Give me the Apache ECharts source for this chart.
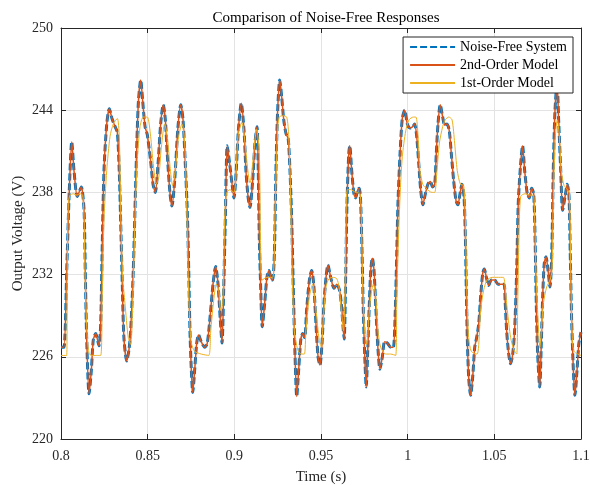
<!DOCTYPE html>
<html>
<head>
<meta charset="utf-8">
<script src="https://cdn.jsdelivr.net/npm/echarts@6/dist/echarts.min.js"></script>
<style>
    html, body { margin: 0; padding: 0; background: #fff; }
    #chart { width: 590px; height: 485px; }
</style>
</head>
<body>
<div id="chart"></div>
<script>
// 时间轴 (s) - 无噪声系统 / 二阶模型
let timeFull = [
    0.8000, 0.8017, 0.8033, 0.8048, 0.8062, 0.8075, 0.8094, 0.8117, 0.8133, 0.8140,
    0.8148, 0.8162, 0.8175, 0.8186, 0.8200, 0.8219, 0.8229, 0.8237, 0.8248, 0.8264,
    0.8279, 0.8294, 0.8312, 0.8325, 0.8336, 0.8344, 0.8354, 0.8363, 0.8379, 0.8392,
    0.8402, 0.8417, 0.8433, 0.8446, 0.8460, 0.8471, 0.8485, 0.8498, 0.8517, 0.8531,
    0.8544, 0.8560, 0.8575, 0.8590, 0.8602, 0.8613, 0.8629, 0.8640, 0.8656, 0.8675,
    0.8691, 0.8704, 0.8717, 0.8729, 0.8737, 0.8744, 0.8752, 0.8760, 0.8771, 0.8783,
    0.8794, 0.8809, 0.8829, 0.8844, 0.8860, 0.8877, 0.8892, 0.8906, 0.8919, 0.8929,
    0.8939, 0.8948, 0.8959, 0.8973, 0.8987, 0.8998, 0.9011, 0.9023, 0.9040, 0.9056,
    0.9067, 0.9079, 0.9090, 0.9106, 0.9119, 0.9131, 0.9138, 0.9144, 0.9152, 0.9161,
    0.9175, 0.9188, 0.9200, 0.9212, 0.9221, 0.9231, 0.9240, 0.9250, 0.9262, 0.9273,
    0.9285, 0.9298, 0.9311, 0.9321, 0.9331, 0.9340, 0.9350, 0.9360, 0.9371, 0.9383,
    0.9394, 0.9406, 0.9417, 0.9433, 0.9446, 0.9458, 0.9471, 0.9483, 0.9494, 0.9506,
    0.9517, 0.9529, 0.9540, 0.9556, 0.9575, 0.9590, 0.9606, 0.9617, 0.9629, 0.9634,
    0.9643, 0.9650, 0.9660, 0.9666, 0.9677, 0.9690, 0.9700, 0.9712, 0.9721, 0.9729,
    0.9737, 0.9744, 0.9752, 0.9761, 0.9769, 0.9779, 0.9787, 0.9796, 0.9806, 0.9817,
    0.9829, 0.9840, 0.9854, 0.9867, 0.9883, 0.9902, 0.9917, 0.9927, 0.9937, 0.9944,
    0.9956, 0.9969, 0.9983, 0.9998, 1.0013, 1.0029, 1.0040, 1.0052, 1.0064, 1.0075,
    1.0088, 1.0102, 1.0117, 1.0131, 1.0144, 1.0156, 1.0165, 1.0175, 1.0188, 1.0202,
    1.0214, 1.0227, 1.0240, 1.0252, 1.0265, 1.0279, 1.0290, 1.0302, 1.0313, 1.0325,
    1.0333, 1.0338, 1.0344, 1.0352, 1.0363, 1.0375, 1.0387, 1.0398, 1.0410, 1.0421,
    1.0433, 1.0442, 1.0454, 1.0467, 1.0483, 1.0502, 1.0521, 1.0540, 1.0556, 1.0563,
    1.0571, 1.0583, 1.0594, 1.0606, 1.0617, 1.0629, 1.0638, 1.0652, 1.0663, 1.0675,
    1.0690, 1.0702, 1.0715, 1.0727, 1.0735, 1.0742, 1.0750, 1.0762, 1.0771, 1.0779,
    1.0788, 1.0798, 1.0810, 1.0821, 1.0831, 1.0840, 1.0850, 1.0862, 1.0871, 1.0883,
    1.0894, 1.0908, 1.0921, 1.0931, 1.0938, 1.0946, 1.0956, 1.0965, 1.0977, 1.0988,
    1.1000
];
let noiseFree = [
    226.7, 226.7, 232.3, 238.2, 241.7, 239.6, 237.7, 238.4, 236.7, 232.3,
    227.4, 223.3, 225.0, 227.2, 227.7, 226.8, 228.4, 233.5, 239.6, 243.0,
    244.1, 243.4, 242.8, 242.4, 239.6, 236.0, 231.1, 227.4, 225.7, 226.5,
    227.9, 232.3, 239.6, 244.5, 246.2, 244.7, 242.8, 242.2, 240.3, 238.6,
    238.0, 240.1, 243.0, 244.4, 243.3, 240.8, 237.9, 237.0, 238.9, 242.8,
    244.4, 243.3, 240.1, 236.5, 232.3, 227.9, 225.0, 223.4, 225.0, 227.0,
    227.6, 227.1, 226.7, 227.0, 228.9, 231.3, 232.6, 231.3, 228.7, 227.0,
    231.1, 236.0, 241.4, 240.1, 238.6, 237.6, 239.6, 242.5, 244.5, 242.5,
    239.6, 237.7, 236.9, 238.9, 241.6, 242.8, 239.6, 234.7, 231.1, 228.2,
    229.9, 231.8, 232.3, 231.7, 231.6, 233.5, 239.6, 244.0, 246.2, 245.0,
    243.3, 242.3, 241.9, 239.6, 236.0, 231.1, 226.2, 223.1, 225.0, 227.2,
    227.7, 227.4, 229.4, 231.6, 232.3, 231.3, 228.4, 226.0, 225.4, 227.0,
    229.9, 231.8, 232.7, 231.8, 231.0, 231.3, 230.9, 229.9, 227.9, 227.3,
    232.3, 237.2, 240.8, 241.4, 239.6, 237.9, 237.6, 238.2, 238.3, 237.2,
    233.5, 229.4, 226.2, 223.8, 226.2, 229.9, 232.3, 233.2, 232.3, 229.4,
    226.5, 225.1, 226.0, 227.1, 227.0, 226.7, 226.7, 228.7, 233.5, 237.2,
    240.8, 243.4, 244.0, 243.0, 242.7, 242.8, 243.0, 242.1, 240.1, 238.2,
    237.1, 237.9, 238.6, 238.8, 238.4, 238.6, 240.8, 243.0, 244.4, 243.5,
    242.9, 243.0, 242.5, 240.8, 238.9, 237.4, 237.1, 237.9, 238.6, 237.7,
    234.7, 231.1, 227.4, 224.5, 223.2, 224.5, 226.7, 227.4, 228.4, 230.4,
    232.1, 232.4, 231.8, 231.2, 231.6, 231.6, 231.3, 231.3, 231.3, 229.9,
    227.9, 226.2, 225.5, 226.2, 227.9, 232.3, 237.2, 240.1, 241.4, 239.6,
    237.9, 237.6, 238.3, 237.9, 234.7, 229.9, 226.2, 223.8, 227.0, 230.4,
    232.8, 233.3, 232.3, 231.1, 233.3, 239.6, 244.0, 246.0, 243.3, 239.6,
    236.7, 237.7, 238.6, 237.7, 233.5, 228.7, 225.0, 223.2, 225.0, 227.0,
    227.8
];
// 二阶模型与无噪声系统几乎重合
let secondOrder = noiseFree.slice();

// 一阶模型
let timeFirst = [
    0.8000, 0.8033, 0.8036, 0.8042, 0.8052, 0.8071, 0.8091, 0.8110, 0.8125, 0.8133,
    0.8140, 0.8152, 0.8163, 0.8186, 0.8229, 0.8237, 0.8248, 0.8264, 0.8283, 0.8302,
    0.8325, 0.8336, 0.8346, 0.8356, 0.8369, 0.8388, 0.8402, 0.8414, 0.8427, 0.8440,
    0.8456, 0.8475, 0.8498, 0.8517, 0.8532, 0.8550, 0.8564, 0.8579, 0.8598, 0.8613,
    0.8629, 0.8644, 0.8659, 0.8679, 0.8698, 0.8714, 0.8725, 0.8733, 0.8742, 0.8752,
    0.8771, 0.8809, 0.8852, 0.8864, 0.8879, 0.8896, 0.8910, 0.8921, 0.8933, 0.8944,
    0.8954, 0.8973, 0.8998, 0.9011, 0.9021, 0.9043, 0.9090, 0.9129, 0.9144, 0.9151,
    0.9160, 0.9188, 0.9221, 0.9236, 0.9250, 0.9259, 0.9279, 0.9302, 0.9314, 0.9323,
    0.9333, 0.9346, 0.9366, 0.9385, 0.9404, 0.9413, 0.9433, 0.9452, 0.9471, 0.9490,
    0.9502, 0.9513, 0.9529, 0.9546, 0.9571, 0.9591, 0.9604, 0.9617, 0.9629, 0.9637,
    0.9644, 0.9652, 0.9671, 0.9700, 0.9725, 0.9733, 0.9741, 0.9752, 0.9764, 0.9775,
    0.9787, 0.9802, 0.9816, 0.9829, 0.9844, 0.9873, 0.9902, 0.9931, 0.9937, 0.9944,
    0.9956, 0.9969, 0.9989, 1.0008, 1.0033, 1.0048, 1.0060, 1.0071, 1.0087, 1.0106,
    1.0140, 1.0156, 1.0169, 1.0183, 1.0202, 1.0217, 1.0237, 1.0256, 1.0271, 1.0286,
    1.0304, 1.0323, 1.0333, 1.0341, 1.0352, 1.0367, 1.0400, 1.0410, 1.0421, 1.0439,
    1.0458, 1.0487, 1.0515, 1.0552, 1.0562, 1.0575, 1.0594, 1.0613, 1.0629, 1.0635,
    1.0642, 1.0652, 1.0677, 1.0706, 1.0725, 1.0733, 1.0740, 1.0752, 1.0763, 1.0771,
    1.0783, 1.0802, 1.0821, 1.0833, 1.0840, 1.0852, 1.0863, 1.0875, 1.0886, 1.0902,
    1.0917, 1.0933, 1.0941, 1.0948, 1.0960, 1.1000
];
let firstOrder = [
    226.1, 226.1, 232.3, 237.2, 237.8, 237.9, 237.8, 237.9, 237.8, 236.0,
    231.1, 227.4, 226.2, 226.1, 226.1, 229.9, 236.0, 239.6, 242.1, 243.0,
    243.4, 242.1, 236.0, 231.8, 229.9, 227.4, 226.9, 229.9, 236.0, 240.3,
    242.8, 243.5, 243.5, 242.1, 240.1, 238.6, 239.1, 241.3, 243.0, 242.1,
    239.9, 238.5, 239.6, 242.1, 243.0, 241.6, 237.2, 232.3, 228.7, 227.0,
    226.4, 226.2, 226.1, 227.9, 229.9, 231.3, 230.9, 229.4, 229.9, 236.0,
    237.9, 238.2, 238.0, 239.6, 242.1, 243.1, 238.7, 242.6, 240.9, 234.5,
    231.6, 231.8, 231.8, 237.2, 242.5, 243.5, 243.6, 243.5, 242.1, 238.4,
    232.3, 227.9, 226.5, 226.2, 226.2, 227.9, 230.4, 231.3, 229.4, 227.2,
    226.7, 228.7, 231.1, 231.7, 231.8, 231.7, 231.1, 229.4, 227.9, 229.9,
    236.0, 238.2, 238.2, 238.0, 237.9, 236.0, 231.1, 227.9, 226.9, 228.7,
    230.4, 231.3, 230.4, 227.9, 226.7, 226.2, 226.2, 226.1, 229.9, 233.5,
    237.7, 240.6, 242.5, 243.3, 243.5, 243.5, 242.1, 239.6, 238.6, 238.3,
    238.0, 238.0, 239.6, 241.6, 242.8, 243.3, 243.5, 243.3, 241.6, 239.6,
    238.6, 238.5, 236.0, 231.1, 227.4, 226.4, 226.2, 226.9, 229.4, 230.9,
    231.6, 231.8, 231.8, 231.8, 231.1, 229.4, 227.4, 226.5, 226.2, 229.9,
    234.7, 237.7, 237.9, 237.8, 237.8, 236.0, 232.3, 228.7, 226.7, 227.9,
    229.9, 231.1, 231.6, 232.3, 237.2, 242.1, 243.3, 242.1, 239.6, 238.5,
    238.3, 237.9, 232.3, 227.9, 226.4, 226.1
];

let yTicks = [220, 226, 232, 238, 244, 250];

window.addEventListener('load', function() {
    let myChart = echarts.init(document.querySelector('#chart'));
    let font = 'Liberation Serif';
    let axisColor = '#262626';

    function zip(ts, vs) {
        return ts.map(function(t, i) { return [t, vs[i]]; });
    }

    let option = {
        animation: false,
        backgroundColor: '#fff',
        title: {
            text: 'Comparison of Noise-Free Responses',
            left: 321,
            textAlign: 'center',
            top: 6,
            textStyle: {
                fontFamily: font,
                fontSize: 15,
                fontWeight: 'normal',
                color: '#000'
            }
        },
        legend: {
            orient: 'vertical',
            right: 17,
            top: 37,
            itemWidth: 45,
            itemHeight: 12,
            itemGap: 4,
            padding: [3, 6, 3, 6],
            backgroundColor: '#fff',
            borderColor: axisColor,
            borderWidth: 1,
            borderRadius: 0,
            itemStyle: { opacity: 0 },
            textStyle: {
                fontFamily: font,
                fontSize: 14,
                lineHeight: 12,
                color: '#000'
            },
            data: ['Noise-Free System', '2nd-Order Model', '1st-Order Model']
        },
        grid: {
            left: 61,
            right: 9,
            top: 28,
            bottom: 46,
            outerBoundsMode: 'none'
        },
        xAxis: [{
            type: 'value',
            min: 0.8,
            max: 1.1,
            interval: 0.05,
            name: 'Time (s)',
            nameLocation: 'middle',
            nameGap: 31,
            nameTextStyle: { fontFamily: font, fontSize: 15, color: axisColor },
            axisLine: { lineStyle: { color: axisColor } },
            axisTick: { inside: true, length: 5, lineStyle: { color: axisColor } },
            axisLabel: {
                fontFamily: font,
                fontSize: 14,
                color: axisColor,
                margin: 10,
                formatter: function(v) { return String(+v.toFixed(2)); }
            },
            splitLine: { show: true, lineStyle: { color: '#e3e3e3' } }
        }, {
            type: 'value',
            position: 'top',
            min: 0.8,
            max: 1.1,
            interval: 0.05,
            axisLine: { show: true, lineStyle: { color: axisColor } },
            axisTick: { inside: true, length: 5, lineStyle: { color: axisColor } },
            axisLabel: { show: false },
            splitLine: { show: false }
        }],
        yAxis: [{
            type: 'value',
            min: yTicks[0],
            max: yTicks[yTicks.length - 1],
            interval: 6,
            name: 'Output Voltage (V)',
            nameLocation: 'middle',
            nameGap: 35,
            nameMoveOverlap: false,
            nameTextStyle: { fontFamily: font, fontSize: 15, color: axisColor },
            axisLine: { show: true, lineStyle: { color: axisColor } },
            axisTick: { show: true, inside: true, length: 5, lineStyle: { color: axisColor } },
            axisLabel: { fontFamily: font, fontSize: 14, color: axisColor, margin: 8 },
            splitLine: { show: true, lineStyle: { color: '#e3e3e3' } }
        }, {
            type: 'value',
            position: 'right',
            min: yTicks[0],
            max: yTicks[yTicks.length - 1],
            interval: 6,
            axisLine: { show: true, lineStyle: { color: axisColor } },
            axisTick: { show: true, inside: true, length: 5, lineStyle: { color: axisColor } },
            axisLabel: { show: false },
            splitLine: { show: false }
        }],
        series: [{
            name: 'Noise-Free System',
            type: 'line',
            symbol: 'none',
            smooth: 0.25,
            color: '#0072BD',
            lineStyle: { width: 3, type: [7, 3], color: '#0072BD' },
            data: zip(timeFull, noiseFree)
        }, {
            name: '2nd-Order Model',
            type: 'line',
            symbol: 'none',
            smooth: 0.25,
            color: '#D95319',
            lineStyle: { width: 1.5, color: '#D95319' },
            data: zip(timeFull, secondOrder)
        }, {
            name: '1st-Order Model',
            type: 'line',
            symbol: 'none',
            smooth: 0.25,
            color: '#EDB120',
            lineStyle: { width: 1, color: '#EDB120' },
            data: zip(timeFirst, firstOrder)
        }]
    };

    myChart.setOption(option);
});
</script>
</body>
</html>
